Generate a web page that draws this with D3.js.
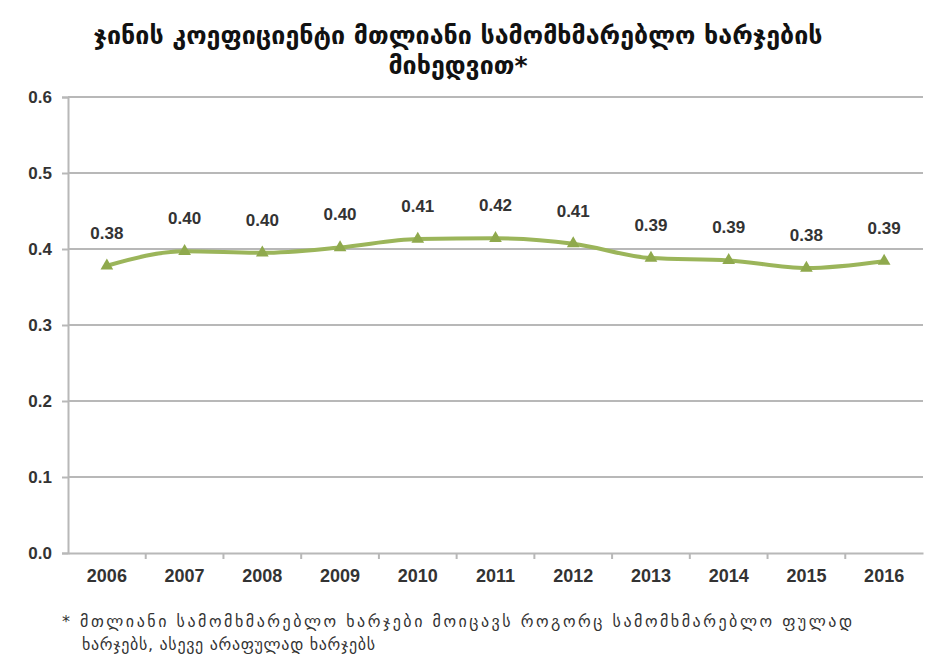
<!DOCTYPE html>
<html><head><meta charset="utf-8">
<script src="https://cdn.jsdelivr.net/npm/d3@7"></script>
<style>body{margin:0;background:#fff}svg{display:block}</style>
</head><body>
<svg id="c" width="937" height="664"></svg>
<script>
const years = ["2006","2007","2008","2009","2010","2011","2012","2013","2014","2015","2016"];
const gini = [0.378, 0.397, 0.395, 0.402, 0.413, 0.414, 0.407, 0.388, 0.385, 0.375, 0.384];
const labels = ["0.38","0.40","0.40","0.40","0.41","0.42","0.41","0.39","0.39","0.38","0.39"];
const yTicks = [0, 0.1, 0.2, 0.3, 0.4, 0.5, 0.6];
const titleLines = ["ჯინის კოეფიციენტი მთლიანი სამომხმარებლო ხარჯების", "მიხედვით*"];
const noteLines = ["* მთლიანი სამომხმარებლო ხარჯები მოიცავს როგორც სამომხმარებლო ფულად", "ხარჯებს, ასევე არაფულად ხარჯებს"];

const svg = d3.select("#c");
const x = d3.scaleBand().domain(years).range([68, 923]);
const y = d3.scaleLinear().domain([0, 0.6]).range([553, 97]);
const grid = "#b8b8b8";

// gridlines
svg.append("g").selectAll("line").data(yTicks.slice(1)).join("line")
  .attr("x1", 68).attr("x2", 923).attr("y1", d => y(d)).attr("y2", d => y(d))
  .attr("stroke", grid).attr("stroke-width", 2);

// y axis
const ya = svg.append("g").attr("transform", "translate(68,0)")
  .call(d3.axisLeft(y).tickValues(yTicks).tickFormat(d3.format(".1f")).tickSize(6).tickPadding(10));
ya.select(".domain").attr("stroke", grid).attr("stroke-width", 2);
ya.selectAll(".tick line").attr("stroke", grid).attr("stroke-width", 2);
ya.selectAll("text").attr("font-family", "Liberation Sans, Arial, sans-serif")
  .attr("font-weight", "bold").attr("font-size", 17).attr("fill", "#333");

// x axis
const xa = svg.append("g").attr("transform", "translate(0,553)")
  .call(d3.axisBottom(x).tickSize(0).tickPadding(16));
xa.select(".domain").attr("stroke", grid).attr("stroke-width", 2);
xa.selectAll("text").attr("font-family", "Liberation Sans Narrow, Liberation Sans, Arial, sans-serif")
  .attr("font-weight", "bold").attr("font-size", 18).attr("fill", "#333").attr("dy", "0.71em");
// tick marks between categories
svg.append("g").selectAll("line").data(years.slice(1)).join("line")
  .attr("x1", d => x(d)).attr("x2", d => x(d)).attr("y1", 553).attr("y2", 559)
  .attr("stroke", grid).attr("stroke-width", 2);

// line
const cx = d => x(d) + x.bandwidth() / 2;
const line = d3.line().x((d, i) => cx(years[i])).y(d => y(d)).curve(d3.curveMonotoneX);
svg.append("path").datum(gini).attr("d", line)
  .attr("fill", "none").attr("stroke", "#9bb55a").attr("stroke-width", 4);

// markers (triangles)
const tri = d3.symbol().type(d3.symbolTriangle).size(70);
svg.append("g").selectAll("path").data(gini).join("path")
  .attr("d", tri).attr("transform", (d, i) => `translate(${cx(years[i])},${y(d)})`)
  .attr("fill", "#8fa94d");

// data labels
svg.append("g").selectAll("text").data(gini).join("text")
  .attr("x", (d, i) => cx(years[i])).attr("y", d => y(d) - 27)
  .attr("text-anchor", "middle").attr("font-family", "Liberation Sans Narrow, Liberation Sans, Arial, sans-serif")
  .attr("font-weight", "bold").attr("font-size", 17).attr("fill", "#333")
  .text((d, i) => labels[i]);

// title
svg.append("g").selectAll("text").data(titleLines).join("text")
  .attr("x", 458).attr("y", (d, i) => 44 + i * 30)
  .attr("text-anchor", "middle").attr("font-family", "DejaVu Sans, sans-serif")
  .attr("font-weight", "bold").attr("font-size", 25).attr("fill", "#111")
  .text(d => d);

// footnote
const notes = svg.append("g").selectAll("text").data(noteLines).join("text")
  .attr("x", (d, i) => i === 0 ? 62 : 82).attr("y", (d, i) => 627 + i * 23)
  .attr("font-family", "DejaVu Sans, sans-serif").attr("font-size", 16).attr("fill", "#333")
  .text(d => d);
notes.filter((d, i) => i === 0).attr("textLength", 790).attr("lengthAdjust", "spacing");
notes.filter((d, i) => i === 1).attr("textLength", 293).attr("lengthAdjust", "spacing");
</script>
</body></html>
